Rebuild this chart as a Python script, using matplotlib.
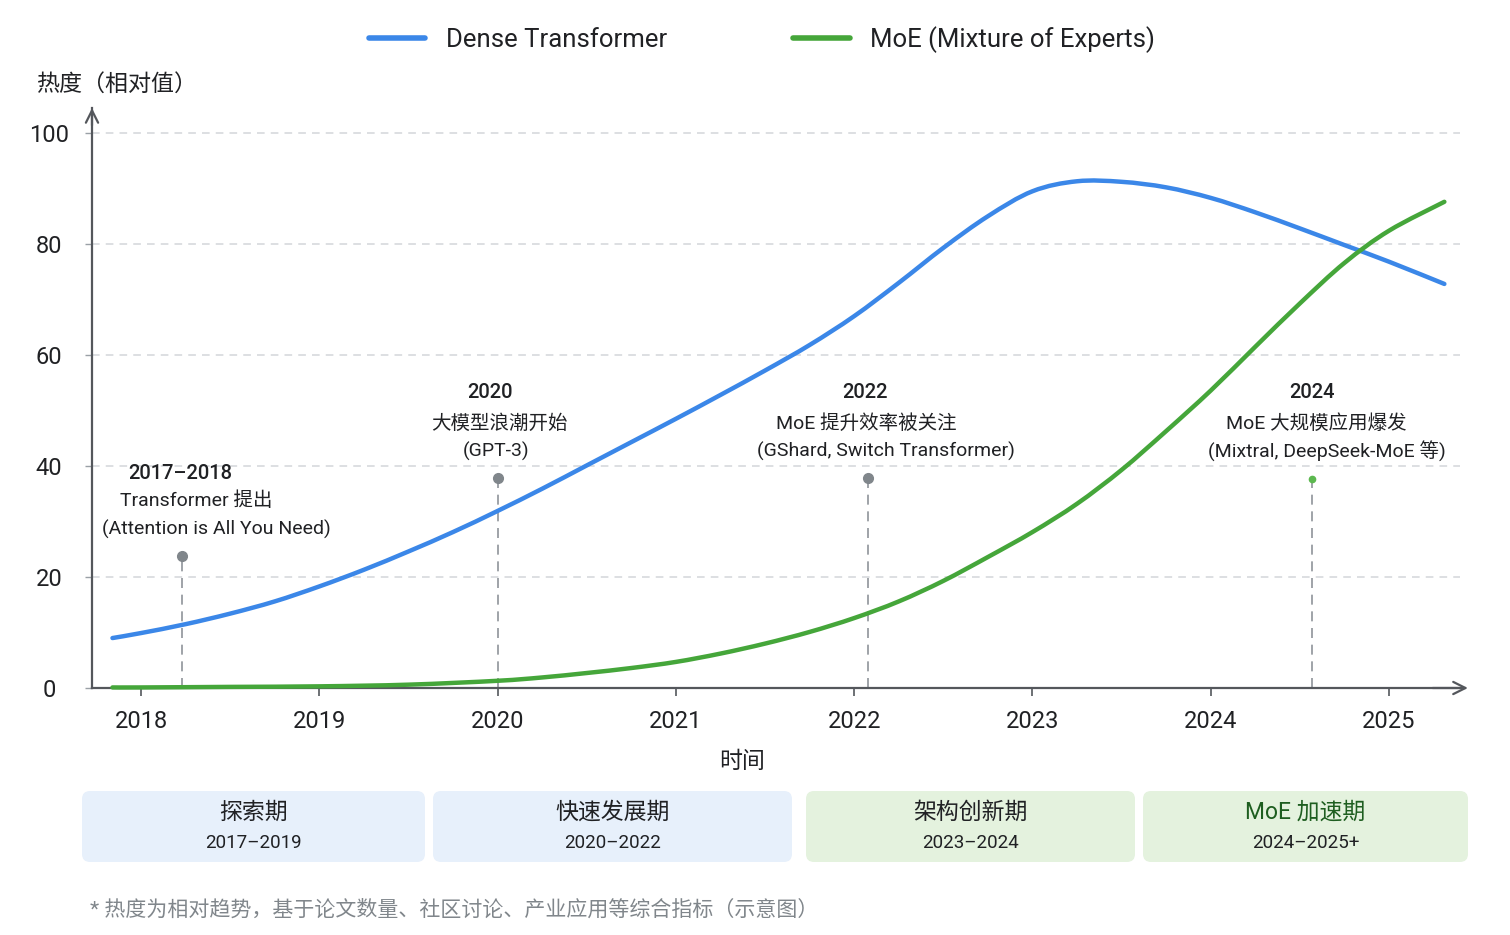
import matplotlib
matplotlib.use('Agg')
import matplotlib.pyplot as plt
from matplotlib.patches import FancyBboxPatch, PathPatch
from matplotlib.path import Path
from matplotlib.lines import Line2D
from matplotlib.transforms import IdentityTransform

plt.rcParams['font.family'] = ['Roboto', 'Noto Sans CJK SC', 'DejaVu Sans']

# ---------------- data ----------------
years_dense = [2017.84, 2018.0, 2018.25, 2018.5, 2018.75, 2019.0, 2019.25, 2019.5, 2019.75,
               2020.0, 2020.25, 2020.5, 2020.75, 2021.0, 2021.25, 2021.5, 2021.75, 2022.0,
               2022.25, 2022.5, 2022.75, 2023.0, 2023.25, 2023.5, 2023.75, 2024.0, 2024.25,
               2024.5, 2024.75, 2025.0, 2025.31]
dense = [9.0, 9.9, 11.5, 13.4, 15.6, 18.3, 21.3, 24.6, 28.1,
         31.9, 35.9, 40.1, 44.3, 48.5, 52.8, 57.2, 61.8, 67.0,
         73.0, 79.3, 85.0, 89.5, 91.3, 91.2, 90.2, 88.3, 85.7,
         82.8, 79.8, 76.8, 72.8]

years_moe = [2017.84, 2018.0, 2018.5, 2019.0, 2019.5, 2020.0, 2020.25, 2020.5, 2020.75,
             2021.0, 2021.25, 2021.5, 2021.75, 2022.0, 2022.25, 2022.5, 2022.75, 2023.0,
             2023.25, 2023.5, 2023.75, 2024.0, 2024.25, 2024.5, 2024.75, 2025.0, 2025.31]
moe = [0.1, 0.1, 0.2, 0.3, 0.6, 1.3, 1.9, 2.7, 3.6,
       4.7, 6.2, 8.0, 10.1, 12.6, 15.6, 19.3, 23.6, 28.1,
       33.2, 39.3, 46.3, 53.6, 61.5, 69.3, 76.6, 82.4, 87.6]

series_labels = ['Dense Transformer', 'MoE (Mixture of Experts)']
xticks = [2018, 2019, 2020, 2021, 2022, 2023, 2024, 2025]
yticks = [0, 20, 40, 60, 80, 100]

event_x = [2018.23, 2020.0, 2022.08, 2024.57]
event_y = [23.7, 37.8, 37.8, 37.6]
event_years = ['2017–2018', '2020', '2022', '2024']
event_titles = ['Transformer 提出', '大模型浪潮开始', 'MoE 提升效率被关注', 'MoE 大规模应用爆发']
event_notes = ['(Attention is All You Need)', '(GPT-3)', '(GShard, Switch Transformer)',
               '(Mixtral, DeepSeek-MoE 等)']
# text placement (data coords) for each line of each event label
event_year_pos = [(2018.22, 38.6), (2019.96, 53.3), (2022.06, 53.3), (2024.57, 53.3)]
event_title_pos = [(2018.31, 33.7), (2020.01, 47.7), (2022.07, 47.7), (2024.59, 47.7)]
event_note_pos = [(2018.42, 28.6), (2019.99, 42.7), (2022.18, 42.7), (2024.65, 42.7)]

period_titles = ['探索期', '快速发展期', '架构创新期', 'MoE 加速期']
period_ranges = ['2017–2019', '2020–2022', '2023–2024', '2024–2025+']

# ---------------- style ----------------
BLUE = '#3b87e8'
GREEN = '#45a63a'
DARK = '#202124'
AXC = '#54575c'
GRAYDOT = '#80868b'

W, H = 1510, 935
fig = plt.figure(figsize=(W / 100, H / 100), dpi=100)
fig.patch.set_facecolor('white')

ax_l, ax_r, ax_b, ax_t = 92, 1460, 688, 108
ax = fig.add_axes([ax_l / W, 1 - ax_b / H, (ax_r - ax_l) / W, (ax_b - ax_t) / H])
ax.set_xlim(2017.7252, 2025.3977)
ax.set_ylim(0, 104.5)

for s in ['top', 'right']:
    ax.spines[s].set_visible(False)
for s in ['left', 'bottom']:
    ax.spines[s].set_color(AXC)
    ax.spines[s].set_linewidth(1.6)

ax.set_xticks(xticks)
ax.set_xticklabels([str(v) for v in xticks])
ax.set_yticks(yticks)
ax.set_yticklabels([str(v) for v in yticks])
ax.tick_params(axis='x', direction='out', length=6, width=1.2, color=AXC,
               labelsize=17, labelcolor=DARK, pad=10)
ax.tick_params(axis='y', direction='out', length=5, width=1.0, color='#9aa0a6',
               labelsize=17, labelcolor=DARK, pad=26)
for lab in ax.get_yticklabels():
    lab.set_horizontalalignment('center')

for v in yticks[1:]:
    ax.axhline(v, color='#d3d6da', lw=1.1, dashes=(5, 4), zorder=1)

# arrows on axes
ax.annotate('', xy=(1.0058, 0), xytext=(0.98, 0), xycoords='axes fraction',
            arrowprops=dict(arrowstyle='->', color=AXC, lw=1.6, mutation_scale=22,
                            shrinkA=0, shrinkB=0), annotation_clip=False)
ax.annotate('', xy=(0, 1.0), xytext=(0, 0.97), xycoords='axes fraction',
            arrowprops=dict(arrowstyle='->', color=AXC, lw=1.6, mutation_scale=22,
                            shrinkA=0, shrinkB=0), annotation_clip=False)

# event markers
for i, (ex, ey) in enumerate(zip(event_x, event_y)):
    ax.plot([ex, ex], [0, ey], color='#8f949a', lw=1.2, dashes=(6, 4), zorder=2)
    if i == 3:
        ax.plot(ex, ey, 'o', color='#5cb84f', ms=4.5, zorder=3)
    else:
        ax.plot(ex, ey, 'o', color=GRAYDOT, ms=7, zorder=3)
    ax.text(*event_year_pos[i], event_years[i], ha='center', va='center',
            fontsize=14.5, fontweight='medium', color=DARK)
    ax.text(*event_title_pos[i], event_titles[i], ha='center', va='center',
            fontsize=14, color=DARK)
    ax.text(*event_note_pos[i], event_notes[i], ha='center', va='center',
            fontsize=14, color=DARK)


def smooth_path(xs, ys):
    """Catmull-Rom rendering of the read points as cubic Bezier segments."""
    pts = list(zip(xs, ys))
    n = len(pts)
    verts = [pts[0]]
    codes = [Path.MOVETO]
    for i in range(n - 1):
        p0 = pts[i - 1] if i > 0 else pts[i]
        p1 = pts[i]
        p2 = pts[i + 1]
        p3 = pts[i + 2] if i + 2 < n else pts[i + 1]
        c1 = (p1[0] + (p2[0] - p0[0]) / 6, p1[1] + (p2[1] - p0[1]) / 6)
        c2 = (p2[0] - (p3[0] - p1[0]) / 6, p2[1] - (p3[1] - p1[1]) / 6)
        verts += [c1, c2, p2]
        codes += [Path.CURVE4] * 3
    return Path(verts, codes)


for xs, ys, col in [(years_dense, dense, BLUE), (years_moe, moe, GREEN)]:
    patch = PathPatch(smooth_path(xs, ys), facecolor='none', edgecolor=col, lw=3.2,
                      capstyle='round', joinstyle='round', zorder=5, clip_on=False)
    ax.add_patch(patch)

handles = [Line2D([0], [0], color=BLUE, lw=4, solid_capstyle='round'),
           Line2D([0], [0], color=GREEN, lw=4, solid_capstyle='round')]
leg = fig.legend(handles=handles, labels=series_labels, loc='center',
                 bbox_to_anchor=(762 / W, 1 - 40 / H),
                 ncol=2, frameon=False, fontsize=18.5, handlelength=2.2,
                 handletextpad=0.8, columnspacing=4.9)
for t in leg.get_texts():
    t.set_color(DARK)

# axis labels
fig.text(36 / W, 1 - 84 / H, '热度（相对值）', ha='left', va='center', fontsize=16.6,
         color=DARK, family=['Noto Sans CJK SC'])
fig.text(742 / W, 1 - 761 / H, '时间', ha='center', va='center', fontsize=16.5,
         color=DARK, family=['Noto Sans CJK SC'])

# period boxes
box_x = [(82, 425), (433, 792), (806, 1135), (1143, 1468)]
box_fill = ['#e7f0fb', '#e7f0fb', '#e4f2de', '#e4f2de']
title_col = [DARK, DARK, DARK, '#1e5e20']
by0, by1 = 791, 862
for i, (x0, x1) in enumerate(box_x):
    p = FancyBboxPatch((x0, H - by1), x1 - x0, by1 - by0,
                       boxstyle='round,pad=0,rounding_size=8',
                       transform=IdentityTransform(), facecolor=box_fill[i],
                       edgecolor='none')
    fig.add_artist(p)
    cx = (x0 + x1) / 2
    fig.text(cx / W, 1 - 812 / H, period_titles[i], ha='center', va='center',
             fontsize=16.5, color=title_col[i])
    fig.text(cx / W, 1 - 843 / H, period_ranges[i], ha='center', va='center',
             fontsize=13.5, color=DARK)

fig.text(90 / W, 1 - 910 / H, '* 热度为相对趋势，基于论文数量、社区讨论、产业应用等综合指标（示意图）',
         ha='left', va='center', fontsize=15.1, color='#80868b')

fig.savefig('out.png', dpi=100, facecolor='white')
